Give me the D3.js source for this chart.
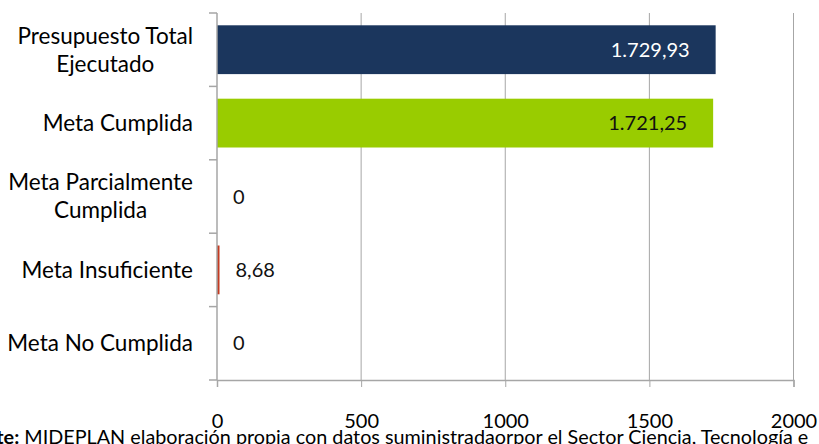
<!DOCTYPE html>
<html><head><meta charset="utf-8">
<script src="https://cdn.jsdelivr.net/npm/d3@7/dist/d3.min.js"></script>
<style>body{margin:0;background:#fff;overflow:hidden}svg{display:block}text{font-family:Lato,"Open Sans",sans-serif}</style>
</head><body>
<script>
const categories = [["Presupuesto Total","Ejecutado"],["Meta Cumplida"],["Meta Parcialmente","Cumplida"],["Meta Insuficiente"],["Meta No Cumplida"]];
const values = [1729.93, 1721.25, 0, 8.68, 0];
const valueLabels = ["1.729,93","1.721,25","0","8,68","0"];
const barColors = ["#1b365d","#99cc00","#c0392b","#c43b21","#c0392b"];
const labelColors = ["#ffffff","#111111","#111111","#111111","#111111"];
const xTicks = [0,500,1000,1500,2000];
const footBold = "Fuente:";
const footRest = " MIDEPLAN elaboración propia con datos suministradaorpor el Sector  Ciencia, Tecnología e";

const W=819,H=444;
const svg=d3.select("body").append("svg").attr("width",W).attr("height",H);
const pL=217,pR=793.5,pT=13,pB=380;
const x=d3.scaleLinear().domain([0,2000]).range([pL,pR]);
const y=d3.scaleBand().domain(d3.range(categories.length)).range([pT,pB]).paddingInner(0.335).paddingOuter(0.1675);
const grid="#a6a6a6";
const ink="#000";

// gridlines
svg.append("g").selectAll("line").data(xTicks.slice(1)).join("line")
  .attr("x1",d=>x(d)).attr("x2",d=>x(d)).attr("y1",pT).attr("y2",pB)
  .attr("stroke",grid).attr("stroke-width",1);

// bars
svg.append("g").selectAll("rect").data(values).join("rect")
  .attr("x",x(0)).attr("y",(d,i)=>y(i)).attr("width",d=>x(d)-x(0)).attr("height",y.bandwidth())
  .attr("fill",(d,i)=>barColors[i]);

// x axis
const xa=svg.append("g").attr("transform",`translate(0,${pB})`)
  .call(d3.axisBottom(x).tickValues(xTicks).tickSize(7).tickPadding(27).tickFormat(d3.format("d")));
xa.select(".domain").attr("stroke",grid).attr("stroke-width",1.5);
xa.selectAll(".tick line").attr("stroke",grid);
xa.selectAll(".tick text").attr("font-size",20).attr("fill",ink).attr("font-family","Lato,sans-serif");

// y axis (ticks at band boundaries)
const bounds=d3.range(categories.length+1).map(i=>pT+i*(pB-pT)/categories.length);
svg.append("line").attr("x1",pL).attr("x2",pL).attr("y1",pT).attr("y2",pB).attr("stroke",grid).attr("stroke-width",1.5);
svg.append("g").selectAll("line").data(bounds).join("line")
  .attr("x1",pL-8).attr("x2",pL).attr("y1",d=>d).attr("y2",d=>d).attr("stroke",grid).attr("stroke-width",1.5);

// category labels
const catG=svg.append("g");
categories.forEach((lines,i)=>{
  const cy=y(i)+y.bandwidth()/2;
  const t=catG.append("text").attr("font-size",22.5).attr("fill",ink).attr("text-anchor","middle");
  const lh=28;
  lines.forEach((l,j)=>{
    t.append("tspan").attr("x",0).attr("y",cy+(j-(lines.length-1)/2)*lh).attr("dy","0.35em").text(l);
  });
  const bw=t.node().getBBox().width;
  t.selectAll("tspan").attr("x",193-bw/2);
});

// value labels
svg.append("g").selectAll("text").data(values).join("text")
  .attr("x",(d,i)=> i<2 ? x(d)-26 : x(d)+16)
  .attr("text-anchor",(d,i)=> i<2 ? "end":"start")
  .attr("y",(d,i)=>y(i)+y.bandwidth()/2).attr("dy","0.35em")
  .attr("font-size",20).attr("fill",(d,i)=>labelColors[i])
  .text((d,i)=>valueLabels[i]);

// footnote (cut off at the left edge, as in the reference)
const fs0=17;
const ft=svg.append("text").attr("y",443.5).attr("font-size",fs0).attr("fill",ink);
ft.append("tspan").attr("font-weight","bold").text(footBold);
ft.append("tspan").text(footRest);
const tmp=svg.append("text").attr("font-size",fs0).attr("font-weight","bold").text("Fuen");
const w1=tmp.node().getComputedTextLength()+3; tmp.remove();
const Wt=ft.node().getComputedTextLength();
const sc=809/(Wt-w1);
ft.attr("font-size",fs0*sc).attr("x",-w1*sc);
</script>
</body></html>
